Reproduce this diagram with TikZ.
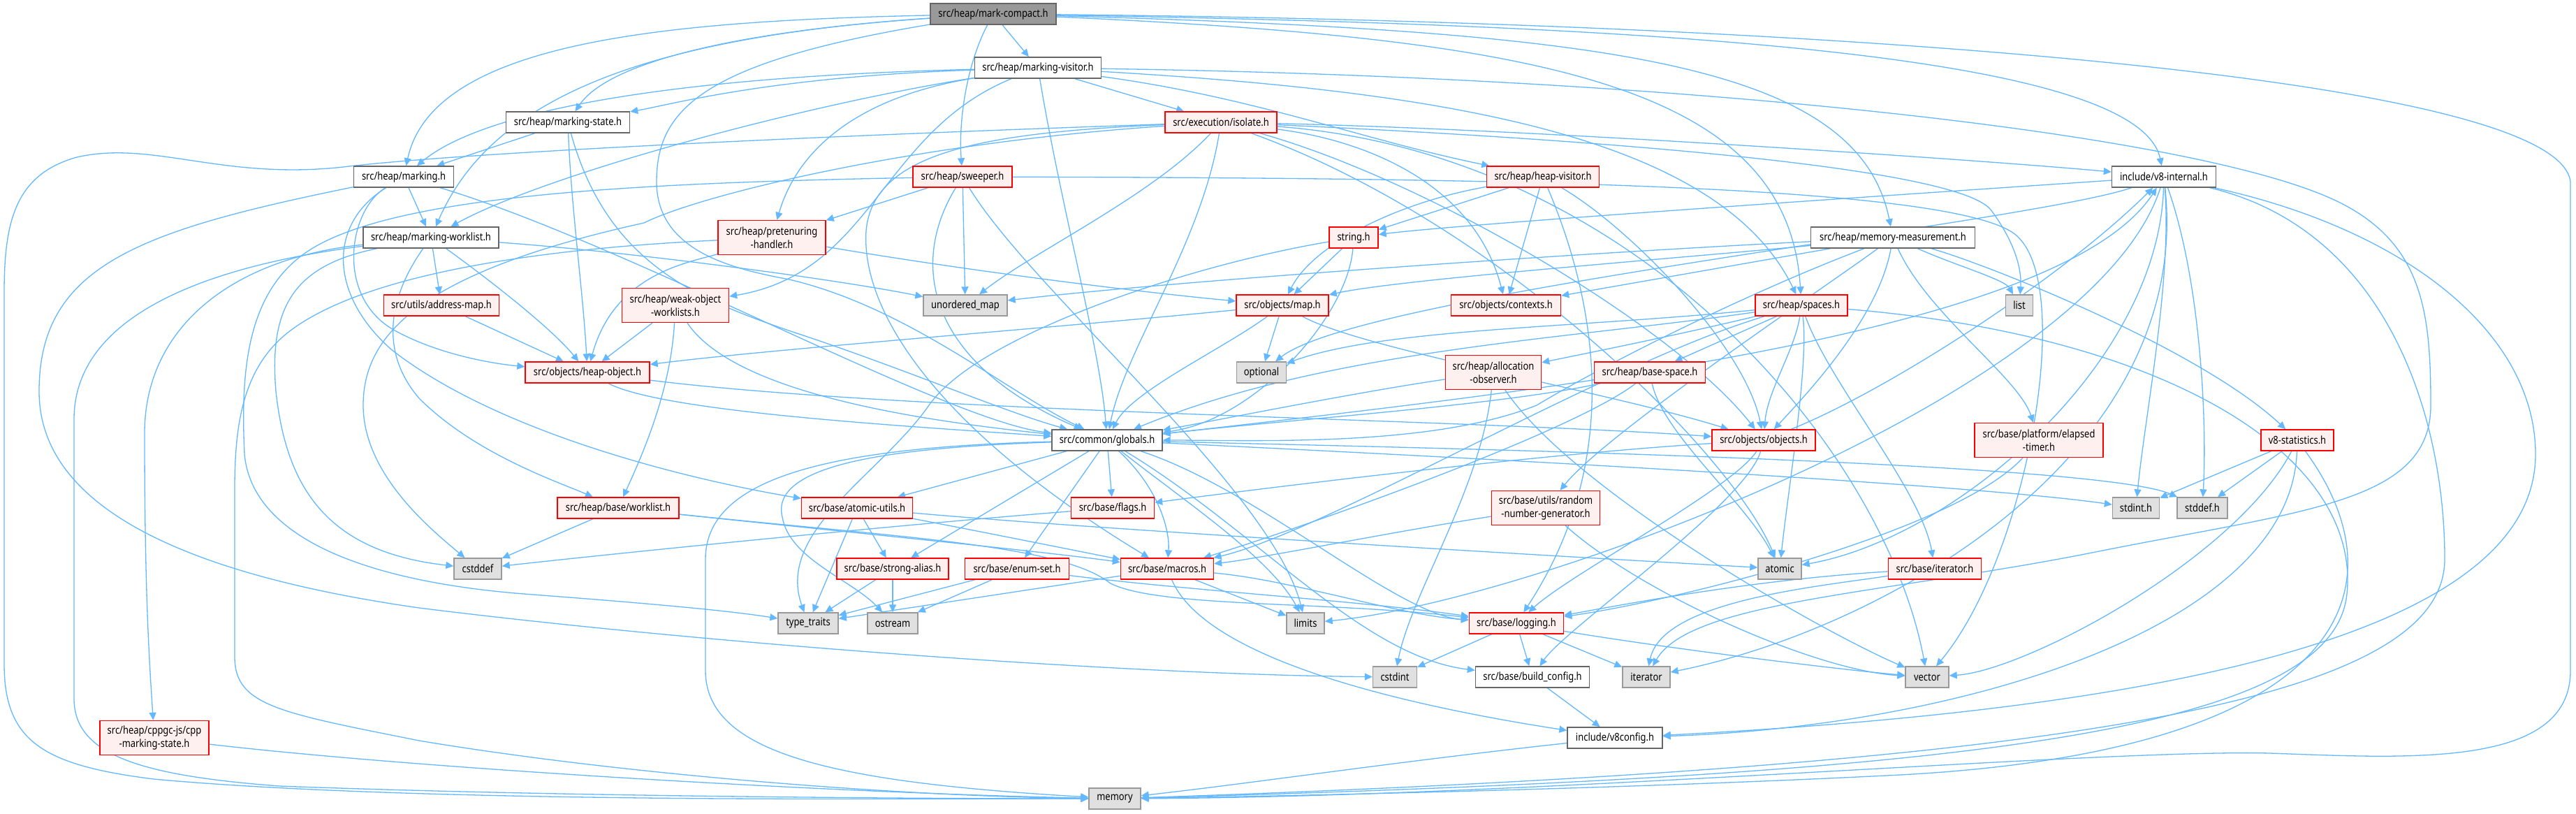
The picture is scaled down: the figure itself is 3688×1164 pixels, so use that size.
\documentclass[tikz,border=0pt]{standalone}
\usepackage{fontspec}
\newfontfamily\nf[FakeStretch=0.84]{Noto Sans}
\usetikzlibrary{arrows.meta}
\definecolor{edgec}{HTML}{63B8FF}
\definecolor{redfill}{HTML}{FFF0F0}
\definecolor{grayfill}{HTML}{E0E0E0}
\definecolor{grayline}{HTML}{999999}
\definecolor{darkline}{HTML}{666666}
\definecolor{mainfill}{HTML}{999999}
\pgfdeclarelayer{bg}
\pgfsetlayers{bg,main}
\tikzset{
 nb/.style={draw, rectangle, inner xsep=0pt, inner ysep=0pt, minimum height=15pt,
   font=\nf\fontsize{7.7}{9.3}\selectfont, align=center, line width=0.7pt, text=black},
 rn/.style={nb, draw=red, fill=redfill},
 gn/.style={nb, draw=grayline, fill=grayfill},
 wn/.style={nb, draw=darkline, fill=white},
 mn/.style={nb, draw=darkline, fill=mainfill},
 W/.style={minimum width=#1*0.5pt},
 two/.style={minimum height=24.5pt},
 e/.style={draw=edgec, line width=0.65pt, -{Triangle[length=5.5pt,width=5pt]}},
}
\begin{document}
\begin{tikzpicture}[x=0.5pt,y=-0.5pt]
\useasboundingbox (0,0) rectangle (3688,1164);
% nodes
\node[mn,W=180] (MC) at (1422,20) {src/heap/mark-compact.h};
\node[wn,W=181] (MV) at (1486,97) {src/heap/marking-visitor.h};
\node[wn,W=177] (MS) at (813,175) {src/heap/marking-state.h};
\node[rn,W=160] (ISO) at (1748,175) {src/execution/isolate.h};
\node[wn,W=143] (MK) at (578,253) {src/heap/marking.h};
\node[rn,W=142] (SW) at (1378,253) {src/heap/sweeper.h};
\node[rn,W=161] (HV) at (2209,253) {src/heap/heap-visitor.h};
\node[wn,W=149] (V8I) at (3098,253) {include/v8-internal.h};
\node[wn,W=194] (MW) at (617,340) {src/heap/marking-worklist.h};
\node[rn,W=154,two] (PH) at (1105,340) {src/heap/pretenuring\\-handler.h};
\node[rn,W=70] (STR) at (1938,340) {string.h};
\node[wn,W=235] (MM) at (2710,340) {src/heap/memory-measurement.h};
\node[rn,W=165] (AM) at (632,437) {src/utils/address-map.h};
\node[rn,W=153,two] (WOW) at (967,437) {src/heap/weak-object\\-worklists.h};
\node[gn,W=120] (UM) at (1382,437) {unordered\_map};
\node[rn,W=132] (MAP) at (1836,437) {src/objects/map.h};
\node[rn,W=157] (CTX) at (2156,437) {src/objects/contexts.h};
\node[rn,W=132] (SP) at (2579,437) {src/heap/spaces.h};
\node[gn,W=39] (LIST) at (2891,437) {list};
\node[rn,W=178] (HO) at (841,533) {src/objects/heap-object.h};
\node[gn,W=71] (OPT) at (1806,533) {optional};
\node[rn,W=137,two] (AO) at (2138,533) {src/heap/allocation\\-observer.h};
\node[rn,W=159] (BS) at (2362,533) {src/heap/base-space.h};
\node[wn,W=158] (GL) at (1585,630) {src/common/globals.h};
\node[rn,W=148] (OBJ) at (2525,630) {src/objects/objects.h};
\node[rn,W=184,two] (ET) at (2919,630) {src/base/platform/elapsed\\-timer.h};
\node[rn,W=104] (V8S) at (3289,630) {v8-statistics.h};
\node[rn,W=174] (BW) at (885,727) {src/heap/base/worklist.h};
\node[rn,W=159] (AU) at (1227,727) {src/base/atomic-utils.h};
\node[rn,W=119] (FL) at (1593,727) {src/base/flags.h};
\node[rn,W=155,two] (RNG) at (2213,727) {src/base/utils/random\\-number-generator.h};
\node[gn,W=67] (STDINT) at (3058,727) {stdint.h};
\node[gn,W=72] (STDDEF) at (3153,727) {stddef.h};
\node[gn,W=68] (CSTDDEF) at (684,814) {cstddef};
\node[rn,W=160] (SA) at (1278,814) {src/base/strong-alias.h};
\node[rn,W=149] (ES) at (1456,814) {src/base/enum-set.h};
\node[rn,W=133] (MAC) at (1671,814) {src/base/macros.h};
\node[gn,W=62] (ATOM) at (2548,814) {atomic};
\node[rn,W=133] (BI) at (2770,814) {src/base/iterator.h};
\node[gn,W=86] (TT) at (1157,892) {type\_traits};
\node[gn,W=72] (OS) at (1278,892) {ostream};
\node[gn,W=54] (LIM) at (1869,892) {limits};
\node[rn,W=135] (LOG) at (2171,892) {src/base/logging.h};
\node[gn,W=63] (CSTDINT) at (1997,969) {cstdint};
\node[wn,W=163] (BC) at (2194,969) {src/base/build\_config.h};
\node[gn,W=68] (IT) at (2357,969) {iterator};
\node[gn,W=62] (VEC) at (2759,969) {vector};
\node[rn,W=156,two] (CPP) at (221,1056) {src/heap/cppgc-js/cpp\\-marking-state.h};
\node[wn,W=136] (V8C) at (2312,1056) {include/v8config.h};
\node[gn,W=74] (MEM) at (1596,1143) {memory};

\begin{pgfonlayer}{bg}
\fill[white] (0,0) rectangle (3688,1164);
% mark-compact
\draw[e] (MC) .. controls (950,30) and (620,60) .. (MK);
\draw[e] (MC) .. controls (1050,45) and (870,90) .. (MS);
\draw[e] (MC) .. controls (900,55) and (700,150) .. (MW);
\draw[e] (MC) .. controls (1000,90) and (940,160) .. (940,260) .. controls (940,360) and (1050,385) .. (1130,400) .. controls (1300,440) and (1440,560) .. (GL);
\draw[e] (MC) -- (MV);
\draw[e] (MC) .. controls (1385,90) and (1372,170) .. (SW);
\draw[e] (MC) .. controls (2300,35) and (3060,70) .. (V8I);
\draw[e] (MC) .. controls (2500,30) and (3660,100) .. (3680,260) -- (3680,960) .. controls (3680,1100) and (3450,1085) .. (3250,1078) .. controls (3000,1072) and (2200,1140) .. (MEM);
\draw[e] (MC) .. controls (2300,45) and (2660,90) .. (MM);
\draw[e] (MC) .. controls (2200,55) and (2560,120) .. (SP);
% marking-visitor
\draw[e] (MV) .. controls (1100,110) and (960,150) .. (MS);
\draw[e] (MV) .. controls (950,110) and (690,160) .. (MK);
\draw[e] (MV) .. controls (1150,150) and (780,250) .. (MW);
\draw[e] (MV) .. controls (1220,140) and (1140,220) .. (PH);
\draw[e] (MV) .. controls (1260,190) and (1250,390) .. (WOW);
\draw[e] (MV) .. controls (1520,300) and (1575,500) .. (GL);
\draw[e] (MV) -- (ISO);
\draw[e] (MV) .. controls (1800,140) and (1950,200) .. (HV);
\draw[e] (MV) .. controls (2050,130) and (2460,190) .. (SP);
\draw[e] (MV) .. controls (2400,110) and (3150,190) .. (3350,290) .. controls (3470,350) and (3480,450) .. (3480,580) .. controls (3480,720) and (3300,730) .. (3000,790) .. controls (2700,850) and (2420,860) .. (IT);
% marking-state
\draw[e] (MS) -- (MK);
\draw[e] (MS) .. controls (818,300) and (835,420) .. (HO);
\draw[e] (MS) .. controls (870,380) and (1000,430) .. (1150,480) .. controls (1300,530) and (1440,590) .. (GL);
% isolate
\draw[e] (ISO) .. controls (1300,190) and (700,215) .. (500,238) .. controls (320,260) and (220,200) .. (110,225) .. controls (20,250) and (6,320) .. (6,420) -- (6,950) .. controls (6,1060) and (60,1095) .. (220,1115) .. controls (600,1150) and (1300,1143) .. (MEM);
\draw[e] (ISO) .. controls (1720,350) and (1610,500) .. (GL);
\draw[e] (ISO) .. controls (1650,280) and (1480,360) .. (UM);
\draw[e] (ISO) .. controls (1400,190) and (1250,220) .. (1240,330) .. controls (1232,450) and (1350,620) .. (MAC);
\draw[e] (ISO) .. controls (1300,205) and (1000,280) .. (922,319) .. controls (600,390) and (520,480) .. (520,580) .. controls (520,680) and (620,760) .. (CSTDDEF);
\draw[e] (ISO) .. controls (2200,185) and (2850,230) .. (V8I);
\draw[e] (ISO) .. controls (1950,200) and (2110,260) .. (CTX);
\draw[e] (ISO) .. controls (2050,260) and (2400,470) .. (OBJ);
\draw[e] (ISO) .. controls (2150,320) and (2480,650) .. (ATOM);
\draw[e] (ISO) .. controls (2350,220) and (2700,650) .. (VEC);
% sweeper
\draw[e] (SW) -- (PH);
\draw[e] (SW) -- (UM);
\draw[e] (SW) .. controls (1300,380) and (1330,520) .. (GL);
\draw[e] (SW) .. controls (1480,420) and (1820,700) .. (LIM);
\draw[e] (SW) .. controls (2100,255) and (2820,262) .. (2890,340) .. controls (2970,420) and (2900,800) .. (VEC);
\draw[e] (SW) .. controls (900,262) and (560,280) .. (440,360) .. controls (350,420) and (345,540) .. (350,650) .. controls (360,760) and (500,830) .. (750,850) .. controls (950,865) and (1050,875) .. (TT);
% pretenuring
\draw[e] (PH) .. controls (1400,390) and (1650,420) .. (MAP);
\draw[e] (PH) .. controls (990,375) and (880,390) .. (HO);
\draw[e] (PH) .. controls (900,350) and (560,370) .. (420,470) .. controls (350,520) and (336,600) .. (336,700) -- (336,940) .. controls (336,1010) and (400,1020) .. (600,1060) .. controls (900,1110) and (1300,1140) .. (MEM);
% heap-visitor
\draw[e] (HV) -- (STR);
\draw[e] (HV) -- (CTX);
\draw[e] (HV) .. controls (2000,290) and (1880,350) .. (MAP);
\draw[e] (HV) .. controls (2340,330) and (2500,500) .. (OBJ);
\draw[e] (HV) .. controls (2280,420) and (2330,650) .. (LOG);
% string
\draw[e] (STR) -- (MAP);
\draw[e] (STR) .. controls (1930,450) and (1800,600) .. (GL);
\draw[e] (STR) .. controls (1700,380) and (1400,480) .. (1330,580) .. controls (1260,680) and (1110,760) .. (TT);
% v8-internal
\draw[e] (V8I) .. controls (2700,280) and (2100,320) .. (STR);
\draw[e] (V8I) .. controls (2900,320) and (1950,420) .. (OPT);
\draw[e] (V8I) .. controls (3090,520) and (2800,770) .. (ATOM);
\draw[e] (V8I) .. controls (3140,650) and (2700,900) .. (IT);
\draw[e] (V8I) .. controls (3000,560) and (2200,860) .. (LIM);
\draw[e] (V8I) .. controls (3420,330) and (3500,600) .. (3500,800) .. controls (3500,1000) and (3000,1095) .. (MEM);
\draw[e] (V8I) .. controls (3450,330) and (3630,480) .. (3630,650) .. controls (3630,930) and (3000,1020) .. (V8C);
\draw[e] (V8I) .. controls (3110,400) and (3070,600) .. (STDINT);
\draw[e] (V8I) .. controls (3150,400) and (3160,600) .. (STDDEF);
% globals
\draw[e] (GL) -- (AU);
\draw[e] (GL) -- (FL);
\draw[e] (GL) -- (SA);
\draw[e] (GL) -- (ES);
\draw[e] (GL) .. controls (1660,700) and (1675,760) .. (MAC);
\draw[e] (GL) .. controls (1300,640) and (1100,660) .. (1120,740) .. controls (1130,800) and (1220,830) .. (OS);
\draw[e] (GL) .. controls (1200,640) and (1010,680) .. (1010,800) -- (1010,960) .. controls (1010,1080) and (1200,1120) .. (MEM);
\draw[e] (GL) .. controls (1700,720) and (1820,800) .. (LIM);
\draw[e] (GL) .. controls (1800,700) and (2000,880) .. (LOG);
\draw[e] (GL) .. controls (1800,760) and (1950,940) .. (BC);
\draw[e] (GL) .. controls (2000,650) and (2800,690) .. (STDINT);
\draw[e] (GL) .. controls (2000,640) and (3000,660) .. (STDDEF);
\draw[e] (GL) .. controls (2200,560) and (2950,480) .. (V8I);
% heap-object
\draw[e] (HO) .. controls (950,590) and (1300,610) .. (GL);
\draw[e] (HO) .. controls (1300,590) and (2100,600) .. (OBJ);
\draw[e] (AM) -- (HO);
\draw[e] (WOW) -- (HO);
\draw[e] (WOW) .. controls (960,560) and (920,650) .. (BW);
\draw[e] (WOW) .. controls (1050,560) and (1300,600) .. (GL);
% map
\draw[e] (MAP) -- (OPT);
\draw[e] (MAP) .. controls (1750,500) and (1620,560) .. (GL);
\draw[e] (MAP) .. controls (1500,470) and (1100,500) .. (HO);
\draw[e] (MAP) .. controls (1950,500) and (2300,560) .. (OBJ);
% memory-measurement
\draw[e] (MM) .. controls (2400,370) and (2000,400) .. (MAP);
\draw[e] (MM) .. controls (2300,360) and (1700,400) .. (UM);
\draw[e] (MM) -- (CTX);
\draw[e] (MM) .. controls (2500,420) and (2300,520) .. (2200,580) .. controls (2050,640) and (1800,630) .. (GL);
\draw[e] (MM) .. controls (2690,450) and (2600,550) .. (OBJ);
\draw[e] (MM) .. controls (2800,380) and (2870,400) .. (LIST);
\draw[e] (MM) .. controls (2850,380) and (3150,500) .. (V8S);
\draw[e] (MM) .. controls (2760,450) and (2890,540) .. (ET);
\draw[e] (MM) .. controls (2600,420) and (2300,620) .. (RNG);
% spaces
\draw[e] (SP) .. controls (2400,480) and (2250,510) .. (AO);
\draw[e] (SP) -- (BS);
\draw[e] (SP) .. controls (2250,470) and (1980,470) .. (OPT);
\draw[e] (SP) .. controls (2250,485) and (1900,500) .. (GL);
\draw[e] (SP) .. controls (2590,520) and (2560,700) .. (ATOM);
\draw[e] (SP) .. controls (2620,550) and (2750,700) .. (BI);
\draw[e] (SP) .. controls (2570,500) and (2530,560) .. (OBJ);
\draw[e] (SP) .. controls (2300,520) and (1900,760) .. (MAC);
\draw[e] (SP) .. controls (3100,480) and (3380,650) .. (3360,850) .. controls (3340,1050) and (2800,1110) .. (MEM);
% allocation-observer, base-space
\draw[e] (AO) .. controls (1950,560) and (1750,600) .. (GL);
\draw[e] (AO) .. controls (2120,700) and (2020,850) .. (CSTDINT);
\draw[e] (AO) .. controls (2250,700) and (2600,900) .. (VEC);
\draw[e] (BS) .. controls (2380,620) and (2500,720) .. (ATOM);
\draw[e] (BS) .. controls (2150,580) and (1850,600) .. (GL);
\draw[e] (BS) .. controls (2250,620) and (1850,760) .. (MAC);
% objects
\draw[e] (OBJ) .. controls (2200,650) and (1800,700) .. (FL);
\draw[e] (OBJ) .. controls (2480,700) and (2250,820) .. (LOG);
\draw[e] (OBJ) .. controls (2500,720) and (2240,900) .. (BC);
\draw[e] (OBJ) .. controls (2700,560) and (2950,400) .. (V8I);
% elapsed timer, statistics
\draw[e] (ET) .. controls (2800,760) and (2400,860) .. (LOG);
\draw[e] (V8S) -- (STDINT);
\draw[e] (V8S) -- (STDDEF);
\draw[e] (V8S) .. controls (3200,800) and (2900,960) .. (VEC);
\draw[e] (V8S) .. controls (3280,900) and (2800,1040) .. (V8C);
\draw[e] (V8S) .. controls (3450,850) and (3350,1080) .. (2700,1110) .. controls (2300,1130) and (1800,1140) .. (MEM);
% worklist etc
\draw[e] (BW) -- (CSTDDEF);
\draw[e] (BW) .. controls (1200,760) and (1500,790) .. (MAC);
\draw[e] (BW) .. controls (1300,770) and (1520,780) .. (1590,835) .. controls (1660,870) and (1900,860) .. (LOG);
\draw[e] (AU) -- (TT);
\draw[e] (AU) -- (SA);
\draw[e] (AU) .. controls (1400,760) and (1550,790) .. (MAC);
\draw[e] (AU) .. controls (1600,760) and (2300,800) .. (ATOM);
\draw[e] (FL) .. controls (1300,750) and (900,790) .. (CSTDDEF);
\draw[e] (SA) -- (TT);
\draw[e] (SA) -- (OS);
\draw[e] (ES) -- (TT);
\draw[e] (ES) -- (OS);
\draw[e] (ES) .. controls (1700,845) and (1950,860) .. (LOG);
\draw[e] (MAC) -- (TT);
\draw[e] (MAC) -- (LIM);
\draw[e] (MAC) .. controls (1850,830) and (2000,880) .. (LOG);
\draw[e] (MAC) .. controls (1720,930) and (1950,1000) .. (V8C);
\draw[e] (LOG) -- (CSTDINT);
\draw[e] (LOG) -- (BC);
\draw[e] (LOG) -- (IT);
\draw[e] (LOG) .. controls (2400,930) and (2650,960) .. (VEC);
\draw[e] (BC) -- (V8C);
\draw[e] (RNG) .. controls (2000,760) and (1800,800) .. (MAC);
\draw[e] (RNG) .. controls (2350,850) and (2600,960) .. (VEC);
\draw[e] (BI) .. controls (2500,830) and (2300,870) .. (LOG);
\draw[e] (BI) .. controls (2600,840) and (2380,860) .. (IT);
\draw[e] (CPP) .. controls (600,1100) and (1200,1135) .. (MEM);
\draw[e] (V8C) .. controls (2000,1090) and (1800,1120) .. (MEM);
% marking
\draw[e] (MK) .. controls (200,330) and (56,380) .. (56,560) .. controls (56,720) and (250,820) .. (600,870) .. controls (1000,920) and (1600,965) .. (CSTDINT);
\draw[e] (MK) .. controls (470,320) and (470,420) .. (560,500) .. controls (700,610) and (950,680) .. (AU);
\draw[e] (MK) .. controls (500,300) and (480,420) .. (560,470) .. controls (620,505) and (700,520) .. (HO);
\draw[e] (MK) -- (MW);
\draw[e] (MK) .. controls (900,350) and (1350,600) .. (GL);
% marking-worklist
\draw[e] (MW) .. controls (300,380) and (106,450) .. (106,600) -- (106,1000) .. controls (106,1080) and (200,1110) .. (400,1125) .. controls (800,1140) and (1300,1143) .. (MEM);
\draw[e] (MW) .. controls (330,370) and (207,470) .. (207,620) .. controls (207,850) and (214,950) .. (CPP);
\draw[e] (MW) .. controls (420,380) and (385,440) .. (395,560) .. controls (410,700) and (470,790) .. (CSTDDEF);
\draw[e] (MW) -- (AM);
\draw[e] (MW) .. controls (700,400) and (790,470) .. (HO);
\draw[e] (MW) .. controls (560,420) and (540,500) .. (600,570) .. controls (680,650) and (800,690) .. (BW);
\draw[e] (MW) .. controls (900,360) and (1200,400) .. (UM);
\draw[e] (ISO) .. controls (2300,200) and (2800,240) .. (2850,300) .. controls (2880,340) and (2895,380) .. (LIST);
\end{pgfonlayer}
\end{tikzpicture}
\end{document}
